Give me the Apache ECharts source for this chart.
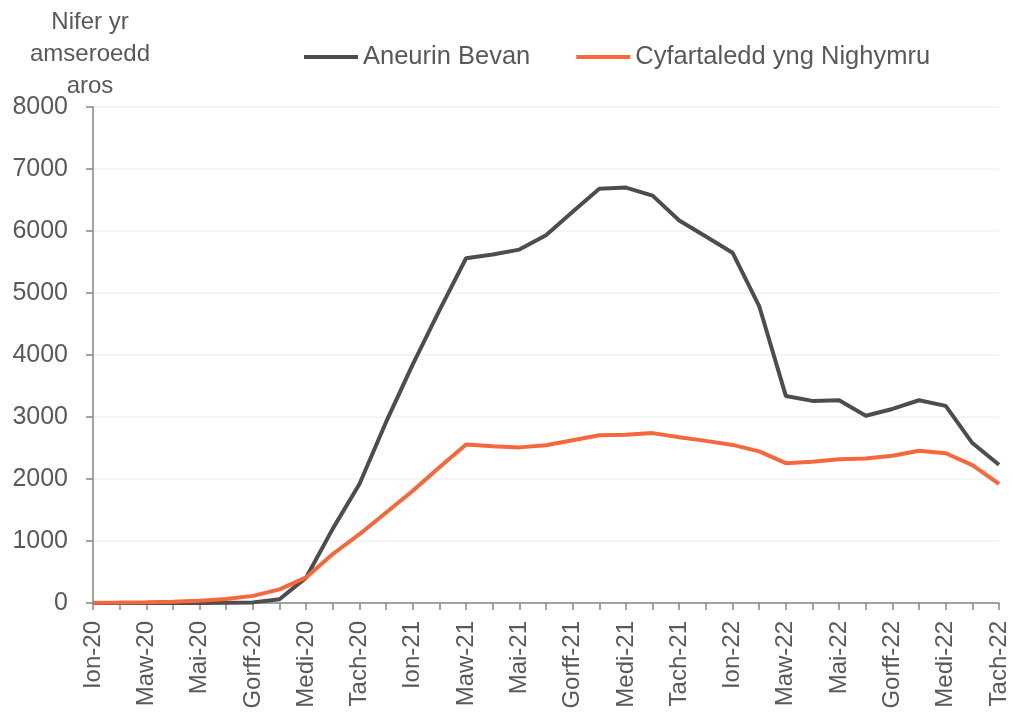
<!DOCTYPE html>
<html>
<head>
<meta charset="utf-8">
<script src="https://cdn.jsdelivr.net/npm/echarts@6/dist/echarts.min.js"></script>
<style>
  html, body { margin: 0; padding: 0; background: #fff; }
  #chart { width: 1013px; height: 717px; }
</style>
</head>
<body>
<div id="chart"></div>
<script>
// misoedd Ion-20 .. Tach-22
const monthNames = ['Ion', 'Chwef', 'Maw', 'Ebr', 'Mai', 'Meh', 'Gorff', 'Awst', 'Medi', 'Hyd', 'Tach', 'Rhag'];
const months = [];
for (const yr of ['20', '21', '22']) {
  for (const m of monthNames) months.push(m + '-' + yr);
}
const categories = months.slice(0, 35);

const aneurinBevan = [
  0, 0, 0, 0, 0, 5, 10, 60, 410, 1200, 1920, 2920,
  3850, 4720, 5560, 5620, 5700, 5930, 6310, 6680, 6700, 6570, 6170, 5910,
  5650, 4790, 3340, 3260, 3270, 3020, 3130, 3270, 3180, 2580, 2230
];
const cymruAverage = [
  5, 8, 12, 20, 35, 65, 115, 220, 414, 790, 1110, 1460,
  1810, 2190, 2555, 2530, 2510, 2545, 2625, 2705, 2715, 2740, 2675, 2615,
  2550, 2445, 2255, 2280, 2320, 2330, 2375, 2455, 2415, 2225, 1920
];

const textColor = '#595959';
const axisColor = '#868686';
const font = 'Liberation Sans, Arial, sans-serif';

const myChart = echarts.init(document.getElementById('chart'));
const option = {
  animation: false,
  textStyle: { fontFamily: font, color: textColor },
  // teitl echel y
  graphic: [{
    type: 'text',
    x: 90,
    y: 6,
    style: {
      text: 'Nifer yr\namseroedd\naros',
      align: 'center',
      verticalAlign: 'top',
      fontSize: 24,
      lineHeight: 32,
      fontFamily: font,
      fill: textColor
    }
  }],
  legend: {
    left: 299,
    top: 39,
    icon: 'rect',
    itemWidth: 54,
    itemHeight: 4,
    itemGap: 46,
    textStyle: { fontSize: 25.5, color: textColor, fontFamily: font },
    data: ['Aneurin Bevan', 'Cyfartaledd yng Nighymru']
  },
  grid: { left: 93, right: 14, top: 107, bottom: 114, containLabel: false },
  xAxis: {
    type: 'category',
    data: categories,
    boundaryGap: false,
    axisLine: { lineStyle: { color: axisColor, width: 1.5 } },
    axisTick: { show: true, interval: 0, length: 7, lineStyle: { color: axisColor, width: 1.5 } },
    axisLabel: { interval: 1, rotate: 90, margin: 18, fontSize: 24, color: textColor, fontFamily: font }
  },
  yAxis: {
    type: 'value',
    min: 0,
    max: 8000,
    interval: 1000,
    axisLine: { show: true, lineStyle: { color: axisColor, width: 1.5 } },
    axisTick: { show: true, length: 7, lineStyle: { color: axisColor, width: 1.5 } },
    axisLabel: { margin: 25, fontSize: 25, color: textColor, fontFamily: font, formatter: v => String(v) },
    splitLine: { lineStyle: { color: '#f0f0f0', width: 1.5 } }
  },
  series: [
    {
      name: 'Aneurin Bevan',
      type: 'line',
      symbol: 'none',
      data: aneurinBevan,
      itemStyle: { color: '#4d4d4d' },
      lineStyle: { color: '#4d4d4d', width: 4 }
    },
    {
      name: 'Cyfartaledd yng Nighymru',
      type: 'line',
      symbol: 'none',
      data: cymruAverage,
      itemStyle: { color: '#f4683b' },
      lineStyle: { color: '#f4683b', width: 4 }
    }
  ]
};
option && myChart.setOption(option);
</script>
</body>
</html>
